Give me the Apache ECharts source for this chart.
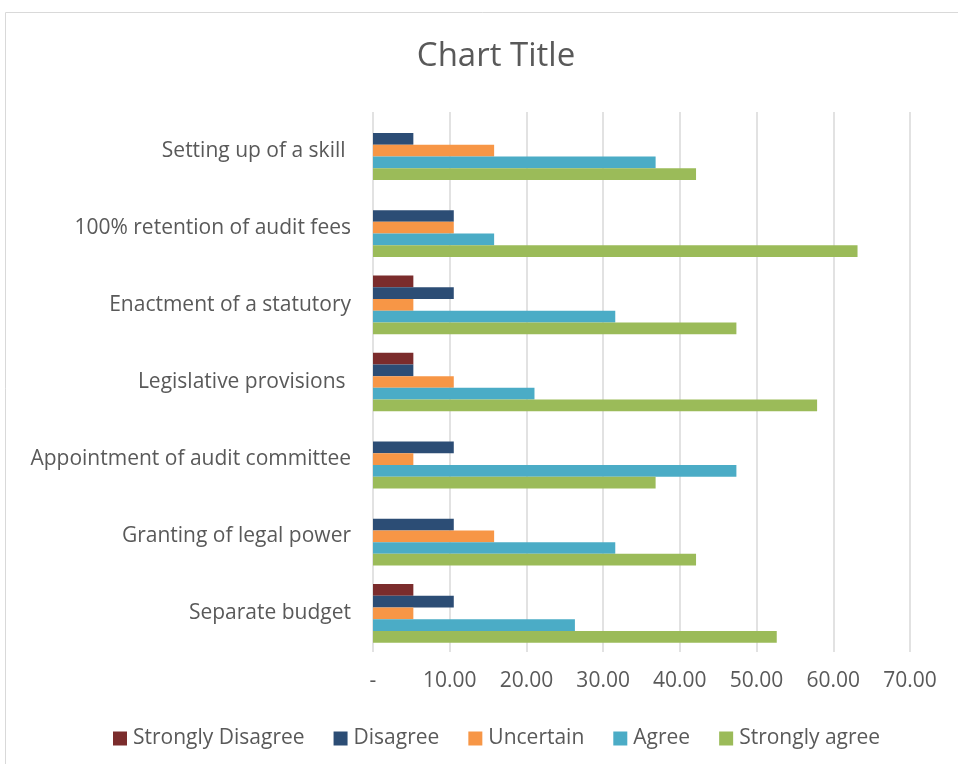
<!DOCTYPE html>
<html>
<head>
<meta charset="utf-8">
<script src="https://cdn.jsdelivr.net/npm/echarts@6/dist/echarts.min.js"></script>
<style>html,body{margin:0;padding:0;background:#fff}#c{width:958px;height:764px}</style>
</head>
<body>
<div id="c"></div>
<script>
const categories = ["Separate budget", "Granting of legal power", "Appointment of audit committee", "Legislative provisions ", "Enactment of a statutory", "100% retention of audit fees", "Setting up of a skill "];
const seriesNames = ["Strongly Disagree", "Disagree", "Uncertain", "Agree", "Strongly agree"];
const stronglyDisagree = [5.26, 0, 0, 5.26, 5.26, 0, 0];
const disagree = [10.53, 10.53, 10.53, 5.26, 10.53, 10.53, 5.26];
const uncertain = [5.26, 15.79, 5.26, 10.53, 5.26, 10.53, 15.79];
const agree = [26.32, 31.58, 47.37, 21.05, 31.58, 15.79, 36.84];
const stronglyAgree = [52.63, 42.11, 36.84, 57.89, 47.37, 63.16, 42.11];
const xTicks = [0, 10, 20, 30, 40, 50, 60, 70];
const colors = ["#7b2c2c", "#2c4d75", "#f79646", "#4bacc6", "#9bbb59"];

const FONT = "Open Sans";
const values = [stronglyDisagree, disagree, uncertain, agree, stronglyAgree];
const chart = echarts.init(document.getElementById('c'), null, {renderer: 'canvas'});
chart.setOption({
  animation: false,
  textStyle: {fontFamily: FONT},
  graphic: [{type: 'rect', shape: {x: 5.5, y: 12.5, width: 1000, height: 800}, style: {fill: 'none', stroke: '#d9d9d9', lineWidth: 1}}],
  title: {text: 'Chart Title', left: 491, top: 35, textAlign: 'center',
    textStyle: {fontFamily: FONT, fontSize: 33, fontWeight: 'normal', color: '#595959'}},
  legend: {
    bottom: 10, left: 108, itemWidth: 14, itemHeight: 14, itemGap: 29, icon: 'rect',
    textStyle: {fontFamily: FONT, fontSize: 21, color: '#595959', padding: [0, 0, 0, 1]},
    data: seriesNames
  },
  grid: {left: 373, right: 48, top: 112, bottom: 112, containLabel: false},
  xAxis: {
    type: 'value', min: 0, max: 70, interval: 10,
    axisLine: {show: false}, axisTick: {show: false},
    splitLine: {lineStyle: {color: '#d9d9d9', width: 1.5}},
    axisLabel: {fontFamily: FONT, fontSize: 21, color: '#595959', margin: 19,
      formatter: v => v === 0 ? '-' : v.toFixed(2)}
  },
  yAxis: {
    type: 'category', data: categories,
    axisLine: {show: false}, axisTick: {show: false},
    axisLabel: {fontFamily: FONT, fontSize: 21, color: '#595959', margin: 22}
  },
  series: seriesNames.map((n, i) => ({
    name: n, type: 'bar', data: values[i],
    barGap: '0%', barCategoryGap: '24%',
    itemStyle: {color: colors[i]}
  }))
});
</script>
</body>
</html>
